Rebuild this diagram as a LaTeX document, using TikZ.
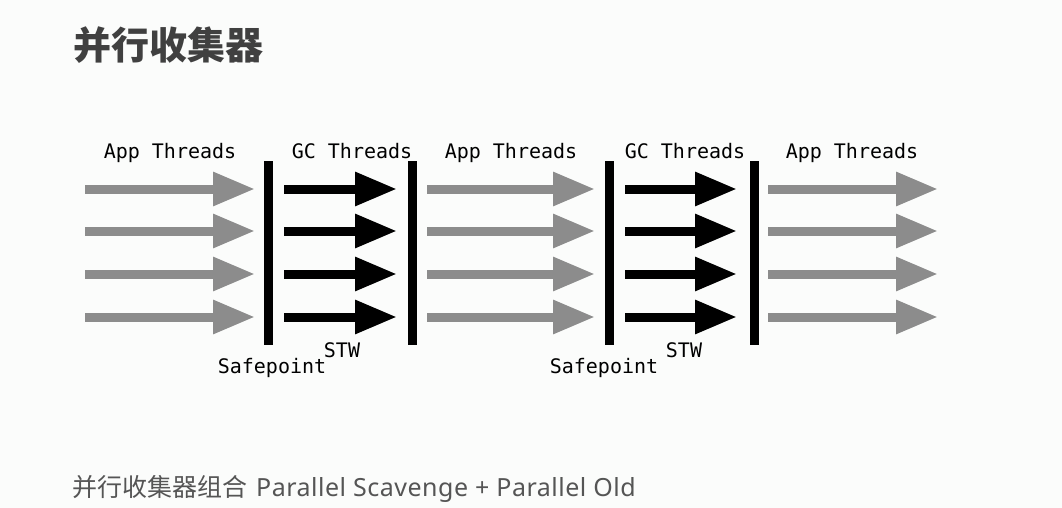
\documentclass[tikz,border=0pt]{standalone}
\usepackage{fontspec}
\usepackage{tikz}
\usetikzlibrary{arrows.meta,positioning}
\setmonofont{DejaVu Sans Mono}
\newfontfamily\cjkfont{Noto Sans CJK SC}
\newfontfamily\latinfont[LetterSpace=2.0]{Noto Sans}
\definecolor{appgray}{RGB}{140,140,140}
\definecolor{titlegray}{RGB}{64,64,64}
\definecolor{notegray}{RGB}{85,85,85}
\definecolor{paper}{RGB}{251,252,251}

\begin{document}
\begin{tikzpicture}[x=1pt,y=-1pt,node distance=135pt]
  \tikzstyle{app}=[draw=appgray,line width=9pt,-{Triangle[length=42pt,width=32pt,fill=appgray]}]
  \tikzstyle{gc}=[draw=black,line width=9pt,-{Triangle[length=42pt,width=32pt,fill=black]}]
  \tikzstyle{bar}=[fill=black,inner sep=0pt,minimum width=9pt,minimum height=184pt]
  \tikzstyle{lbl}=[font=\ttfamily\fontsize{20}{24}\selectfont,inner sep=0pt,anchor=base]

  \fill[paper] (0,0) rectangle (1062,508);
  \useasboundingbox (0,0) rectangle (1062,508);

  \node[anchor=west,inner sep=0pt,text=titlegray,font=\cjkfont\bfseries\fontsize{38}{42}\selectfont] (title) at (73,45) {并行收集器};

  % safepoints and stop-the-world bars
  \node[bar] (SP1) at (268,253) {};
  \node[bar] (STW1) [right=of SP1] {};
  \node[bar] (SP2) [right=188pt of STW1] {};
  \node[bar] (STW2) [right=of SP2] {};

  % thread arrows, one row at a time
  \foreach \r/\y in {1/189,2/231,3/274,4/317} {
    \coordinate (a\r) at (85,\y);   \coordinate (b\r) at (255,\y);
    \coordinate (c\r) at (284,\y);  \coordinate (d\r) at (397,\y);
    \coordinate (e\r) at (427,\y);  \coordinate (f\r) at (595,\y);
    \coordinate (g\r) at (625,\y);  \coordinate (h\r) at (737,\y);
    \coordinate (i\r) at (768,\y);  \coordinate (j\r) at (938,\y);
    \draw[app] (a\r) -- (b\r);
    \draw[gc]  (c\r) -- (d\r);
    \draw[app] (e\r) -- (f\r);
    \draw[gc]  (g\r) -- (h\r);
    \draw[app] (i\r) -- (j\r);
  }

  \node[lbl] (app1) at (170,158) {App Threads};
  \node[lbl] (gc1)  at (352,158) {GC Threads};
  \node[lbl] (app2) at (511,158) {App Threads};
  \node[lbl] (gc2)  at (685,158) {GC Threads};
  \node[lbl] (app3) at (852,158) {App Threads};

  \node[lbl] (safe1) at (272,373) {Safepoint};
  \node[lbl] (stop1) at (342,357) {STW};
  \node[lbl] (safe2) at (604,373) {Safepoint};
  \node[lbl] (stop2) at (684,357) {STW};

  \node[anchor=base west,inner sep=0pt,text=notegray,font=\cjkfont\fontsize{25}{28}\selectfont] (combo) at (72,496)
    {并行收集器组合\hspace{9pt}{\latinfont\fontsize{25}{28}\selectfont Parallel Scavenge + Parallel Old}};
\end{tikzpicture}
\end{document}
